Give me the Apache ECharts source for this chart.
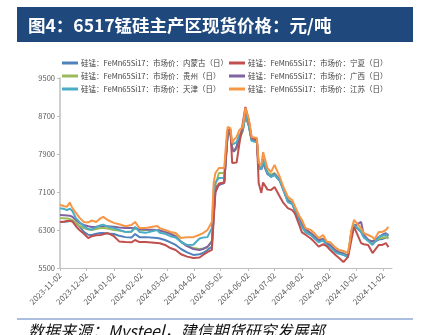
<!DOCTYPE html>
<html>
<head>
<meta charset="utf-8">
<script src="https://cdn.jsdelivr.net/npm/echarts@6/dist/echarts.min.js"></script>
<style>
html,body{margin:0;padding:0;background:#fff;}
#chart{width:428px;height:335px;}
</style>
</head>
<body>
<div id="chart"></div>
<script>
// ---- data ----
const dates = [
'2023-11-02','2023-11-07','2023-11-10','2023-11-13','2023-11-16','2023-11-20','2023-11-24','2023-11-29','2023-12-04','2023-12-08',
'2023-12-13','2023-12-18','2023-12-21','2023-12-26','2024-01-02','2024-01-08','2024-01-15','2024-01-22','2024-01-26','2024-01-31',
'2024-02-07','2024-02-20','2024-02-23','2024-02-29','2024-03-06','2024-03-12','2024-03-18','2024-03-25','2024-04-01','2024-04-08',
'2024-04-12','2024-04-17','2024-04-22','2024-04-24','2024-04-26','2024-04-30','2024-05-06','2024-05-09','2024-05-10','2024-05-13',
'2024-05-15','2024-05-17','2024-05-20','2024-05-23','2024-05-27','2024-05-30','2024-06-03','2024-06-06','2024-06-12','2024-06-14',
'2024-06-17','2024-06-19','2024-06-24','2024-06-28','2024-07-02','2024-07-08','2024-07-12','2024-07-17','2024-07-22','2024-07-25',
'2024-07-30','2024-08-02','2024-08-06','2024-08-12','2024-08-16','2024-08-21','2024-08-26','2024-08-30','2024-09-03','2024-09-09',
'2024-09-13','2024-09-18','2024-09-23','2024-09-25','2024-09-27','2024-09-30','2024-10-08','2024-10-11','2024-10-16','2024-10-21',
'2024-10-23','2024-10-28','2024-11-01','2024-11-05','2024-11-08'
];
const axisStart = '2023-11-02';
const axisEnd = '2024-11-12';

const jiangsu = [
6830,6800,6790,6880,6760,6660,6560,6470,6460,6500,
6470,6550,6575,6510,6450,6420,6380,6405,6470,6340,
6340,6385,6340,6300,6260,6235,6130,6150,6150,6200,
6235,6300,6470,7290,7500,7605,7605,8340,8470,8445,
8130,8200,8260,8400,8470,8870,8615,8260,8235,7710,
7670,7940,7600,7520,7670,7415,7205,7000,6930,6800,
6600,6510,6340,6300,6235,6130,6195,6060,6045,5930,
5880,5860,5815,6025,6300,6510,6340,6235,6195,6150,
6100,6260,6260,6300,6365
];
const tianjin = [
6760,6740,6720,6750,6700,6550,6470,6380,6320,6310,
6360,6400,6410,6370,6340,6300,6260,6270,6365,6260,
6240,6300,6240,6220,6170,6140,6045,5985,5990,6120,
6140,6150,6340,7000,7300,7395,7400,8150,8350,8400,
8100,8080,8150,8300,8400,8720,8500,8180,8150,7600,
7580,7800,7500,7420,7460,7340,7150,6890,6850,6720,
6480,6365,6250,6195,6120,6040,6080,5980,5940,5830,
5800,5780,5730,5950,6250,6405,6260,6150,6070,5985,
5990,6150,6180,6195,6220
];
const guangxi = [
6615,6610,6605,6600,6580,6510,6450,6405,6380,6365,
6370,6385,6385,6380,6370,6355,6340,6340,6335,6320,
6310,6300,6290,6260,6220,6160,6050,5960,5900,5880,
5900,5950,6050,6600,7200,7250,7300,8100,8300,8350,
8000,7950,8050,8250,8400,8750,8500,8200,8160,7600,
7580,7750,7480,7430,7480,7350,7160,6920,6860,6740,
6520,6420,6320,6230,6170,6080,6110,6020,5980,5870,
5830,5800,5750,5980,6250,6380,6470,6200,6090,6060,
6050,6150,6200,6235,6180
];
const guizhou = [
6550,6545,6540,6530,6510,6450,6390,6340,6310,6300,
6320,6340,6340,6330,6300,6290,6260,6260,6340,6300,
6300,6300,6290,6250,6220,6180,6060,5960,5920,5900,
5910,5930,6080,6700,7250,7500,7500,8200,8350,8380,
8050,7980,8000,8200,8380,8700,8480,8180,8150,7650,
7600,7700,7520,7460,7500,7360,7180,6950,6880,6760,
6540,6430,6300,6240,6180,6090,6120,6030,5990,5880,
5840,5810,5760,6000,6280,6420,6280,6180,6100,6040,
6030,6120,6130,6150,6120
];
const neimenggu = [
6470,6475,6480,6490,6490,6440,6380,6260,6200,6195,
6220,6235,6235,6225,6215,6180,6150,6140,6215,6150,
6150,6130,6120,6090,6040,5985,5900,5830,5775,5790,
5815,5880,5950,6600,7100,7250,7290,8100,8300,8350,
8000,7950,8050,8250,8420,8720,8480,8200,8170,7650,
7580,7700,7480,7420,7460,7330,7140,6900,6850,6720,
6500,6400,6280,6220,6150,6060,6090,6000,5960,5850,
5810,5780,5730,5960,6250,6400,6260,6150,6080,6030,
6020,6100,6110,6140,6150
];
const ningxia = [
6470,6480,6490,6490,6480,6380,6300,6220,6130,6170,
6190,6195,6210,6235,6170,6060,6045,6040,6090,6045,
6045,6025,6020,5985,5920,5880,5790,5740,5710,5720,
5775,5835,5880,6500,7100,7280,7300,8150,8400,8420,
7710,7750,7720,8100,8550,8890,8600,8240,8200,7290,
7080,7300,7150,7140,7205,7000,6870,6760,6720,6650,
6400,6250,6200,6120,6050,5950,6000,5960,5880,5775,
5710,5625,5730,5900,6090,6365,6025,6000,5985,5815,
5775,5985,5985,6025,5940
];
const yTicks = [5500, 6300, 7100, 7900, 8700, 9500];

const names = {
  neimenggu: '硅锰：FeMn65Si17：市场价：内蒙古（日）',
  ningxia:   '硅锰：FeMn65Si17：市场价：宁夏（日）',
  guizhou:   '硅锰：FeMn65Si17：市场价：贵州（日）',
  guangxi:   '硅锰：FeMn65Si17：市场价：广西（日）',
  tianjin:   '硅锰：FeMn65Si17：市场价：天津（日）',
  jiangsu:   '硅锰：FeMn65Si17：市场价：江苏（日）'
};

// ---- build calendar-day category axis ----
function toUTC(s){ return Date.parse(s + 'T00:00:00Z'); }
function fmt(t){ return new Date(t).toISOString().slice(0,10); }
const days = [];
for (let t = toUTC(axisStart); t <= toUTC(axisEnd); t += 86400000) days.push(fmt(t));
const idx = {}; days.forEach((d,i)=>idx[d]=i);
function build(vals){
  const arr = new Array(days.length).fill(null);
  dates.forEach((d,i)=>{ arr[idx[d]] = vals[i]; });
  return arr;
}

const FONT = '"Noto Sans CJK SC", "Liberation Sans", sans-serif';
const mk = (name, vals, color) => ({
  name, type: 'line', data: build(vals), connectNulls: true, showSymbol: false, symbol: 'none',
  lineStyle: { width: 2, color }, itemStyle: { color }
});

const chart = echarts.init(document.getElementById('chart'));
chart.setOption({
  animation: false,
  backgroundColor: '#fff',
  textStyle: { fontFamily: FONT },
  graphic: [
    { type: 'rect', shape: { x: 17, y: 7, width: 396, height: 35 }, style: { fill: '#1F497D' } },
    { type: 'text', x: 28, y: 25, style: { text: '图4：6517锰硅主产区现货价格：元/吨', fill: '#fff', font: 'bold 17.5px ' + FONT, textVerticalAlign: 'middle' } },
    { type: 'line', shape: { x1: 17, y1: 319, x2: 413, y2: 319 }, style: { stroke: '#8FA8D4', lineWidth: 1.5 } },
    { type: 'text', x: 28, y: 331, style: { text: '数据来源：Mysteel，建信期货研究发展部', fill: '#111', font: 'italic 16px ' + FONT, textVerticalAlign: 'middle' } }
  ],
  legend: [
    { orient: 'vertical', left: 62, top: 58, itemWidth: 16, itemHeight: 3, itemGap: 3, icon: 'rect',
      data: [names.neimenggu, names.guizhou, names.tianjin],
      textStyle: { fontSize: 7.5, color: '#404040', lineHeight: 10, padding: [0,0,0,-2] }, padding: 0 },
    { orient: 'vertical', left: 229, top: 58, itemWidth: 16, itemHeight: 3, itemGap: 3, icon: 'rect',
      data: [names.ningxia, names.guangxi, names.jiangsu],
      textStyle: { fontSize: 7.5, color: '#404040', lineHeight: 10, padding: [0,0,0,-2] }, padding: 0 }
  ],
  grid: { left: 60, right: 36, top: 78, bottom: 67, containLabel: false },
  xAxis: {
    type: 'category', data: days, boundaryGap: false,
    axisLine: { lineStyle: { color: '#BFBFBF', width: 1 } },
    axisTick: { show: true, length: 3, lineStyle: { color: '#BFBFBF' }, interval: (i, v) => v.endsWith('-02') },
    axisLabel: { interval: (i, v) => v.endsWith('-02'), rotate: 45, fontSize: 8, color: '#595959', margin: 6 },
    splitLine: { show: false }
  },
  yAxis: {
    type: 'value', min: 5500, max: 9500, interval: 800,
    axisLine: { show: true, lineStyle: { color: '#BFBFBF', width: 1.5 } },
    axisTick: { show: true, length: 3, lineStyle: { color: '#BFBFBF' }, customValues: yTicks },
    axisLabel: { fontSize: 7.5, color: '#595959', margin: 5, customValues: yTicks, formatter: v => String(v) },
    splitLine: { show: false }
  },
  series: [
    mk(names.neimenggu, neimenggu, '#4F81BD'),
    mk(names.guizhou, guizhou, '#9BBB59'),
    mk(names.guangxi, guangxi, '#8064A2'),
    mk(names.tianjin, tianjin, '#4BACC6'),
    mk(names.ningxia, ningxia, '#C0504D'),
    mk(names.jiangsu, jiangsu, '#F79646')
  ]
});
</script>
</body>
</html>
